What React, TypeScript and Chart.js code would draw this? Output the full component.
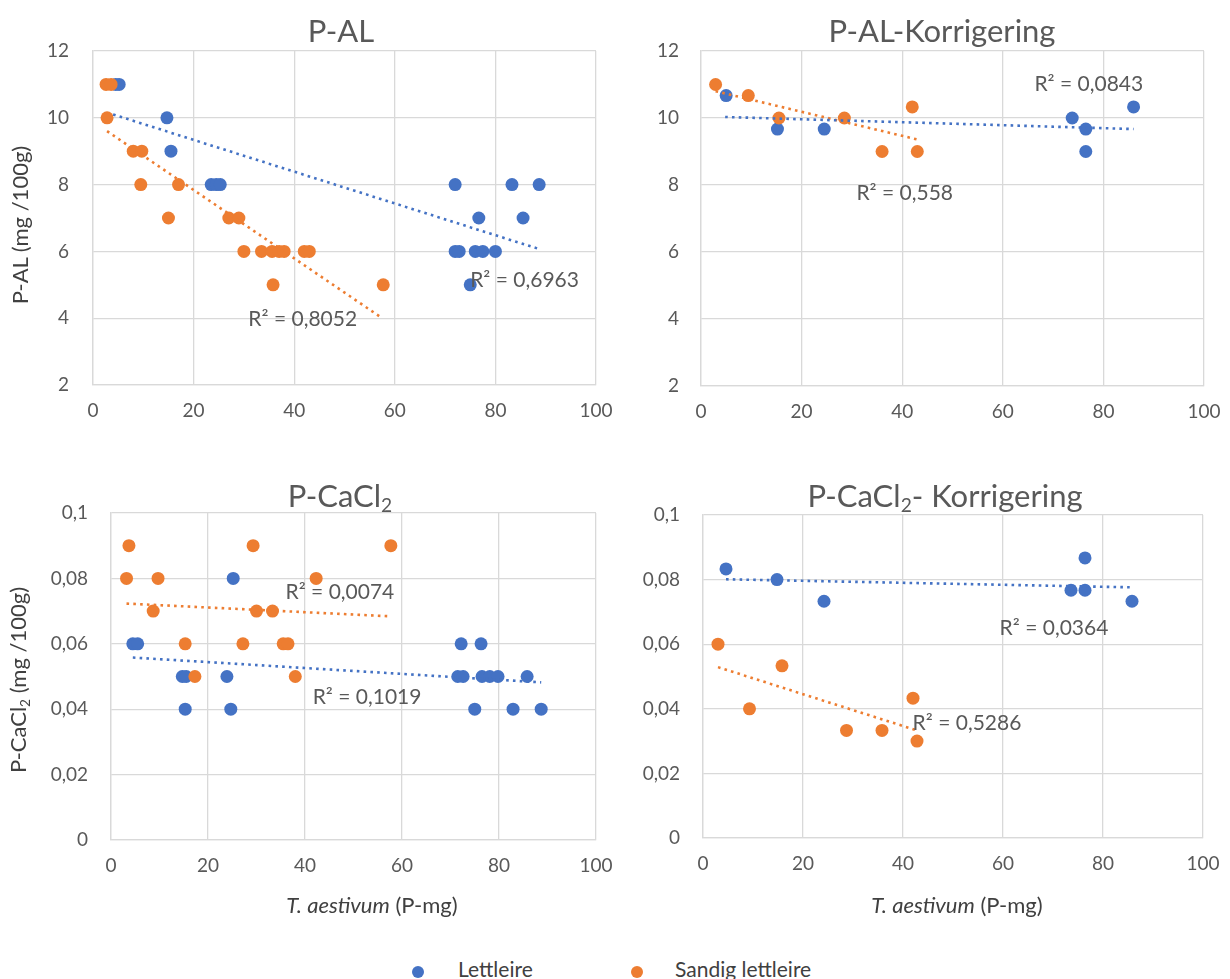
import React, { useEffect, useRef } from "react";
import { Chart, registerables } from "chart.js";
Chart.register(...registerables);

const BLUE = "#4472C4";
const ORANGE = "#ED7D31";
const GRID = "#d9d9d9";
const TEXT = "#595959";
const FONT = "Lato";

const seriesNames = ["Lettleire", "Sandig lettleire"];
const xTickValues = [0, 20, 40, 60, 80, 100];
const alTickValues = [2, 4, 6, 8, 10, 12];
const caTickValues = [0, 0.02, 0.04, 0.06, 0.08, 0.1];

// P-AL
const alLettX = [4.5, 5.2, 14.7, 15.5, 23.5, 24.5, 25.3, 72, 72.8, 76, 77.5, 80, 75, 76.7, 85.5, 72, 83.3, 88.7];
const alLettY = [11, 11, 10, 9, 8, 8, 8, 6, 6, 6, 6, 6, 5, 7, 7, 8, 8, 8];
const alSandX = [2.6, 3.6, 2.8, 8, 9.7, 9.5, 17, 15, 27, 29, 30, 33.5, 35.6, 37, 38, 42, 43, 35.8, 57.7];
const alSandY = [11, 11, 10, 9, 9, 8, 8, 7, 7, 7, 6, 6, 6, 6, 6, 6, 6, 5, 5];
const alLettTrendX = [4, 88.5];
const alLettTrendY = [10.1, 6.08];
const alSandTrendX = [2.8, 57.5];
const alSandTrendY = [9.6, 4.0];
const alR2 = ["R² = 0,6963", "R² = 0,8052"];

// P-AL-Korrigering
const korLettX = [5, 15.2, 24.5, 73.8, 76.5, 76.5, 86];
const korLettY = [10.67, 9.67, 9.67, 10, 9.67, 9, 10.33];
const korSandX = [2.9, 9.4, 15.5, 28.5, 36, 42, 43];
const korSandY = [11, 10.67, 10, 10, 9, 10.33, 9];
const korLettTrendX = [4.8, 86];
const korLettTrendY = [10.03, 9.67];
const korSandTrendX = [2.9, 43];
const korSandTrendY = [10.8, 9.36];
const korR2 = ["R² = 0,0843", "R² = 0,558"];

// P-CaCl2
const caLettX = [25.2, 4.5, 5.5, 14.7, 15.5, 23.9, 15.3, 24.7, 72.2, 76.3, 71.5, 72.6, 76.5, 78.1, 79.8, 85.8, 75, 82.9, 88.7];
const caLettY = [0.08, 0.06, 0.06, 0.05, 0.05, 0.05, 0.04, 0.04, 0.06, 0.06, 0.05, 0.05, 0.05, 0.05, 0.05, 0.05, 0.04, 0.04, 0.04];
const caSandX = [3.7, 29.3, 57.7, 3.2, 9.7, 42.3, 8.7, 30, 33.3, 15.3, 27.2, 35.5, 36.5, 17.3, 38];
const caSandY = [0.09, 0.09, 0.09, 0.08, 0.08, 0.08, 0.07, 0.07, 0.07, 0.06, 0.06, 0.06, 0.06, 0.05, 0.05];
const caLettTrendX = [4.5, 88.7];
const caLettTrendY = [0.0558, 0.0482];
const caSandTrendX = [3.2, 57.7];
const caSandTrendY = [0.0723, 0.0684];
const caR2 = ["R² = 0,1019", "R² = 0,0074"];

// P-CaCl2- Korrigering
const kcLettX = [4.6, 14.8, 24.2, 73.6, 76.4, 76.4, 85.8];
const kcLettY = [0.0833, 0.08, 0.0733, 0.0767, 0.0767, 0.0867, 0.0733];
const kcSandX = [3, 9.3, 15.8, 28.7, 35.8, 42, 42.8];
const kcSandY = [0.06, 0.04, 0.0533, 0.0333, 0.0333, 0.0433, 0.03];
const kcLettTrendX = [4.6, 85.8];
const kcLettTrendY = [0.0801, 0.0776];
const kcSandTrendX = [3, 42.8];
const kcSandTrendY = [0.0529, 0.0333];
const kcR2 = ["R² = 0,0364", "R² = 0,5286"];

const pts = (xs: number[], ys: number[]) => xs.map((x, i) => ({ x, y: ys[i] }));

const r2Plugin = {
  id: "r2labels",
  afterDatasetsDraw(chart: any, _args: any, opts: any) {
    const { ctx, scales } = chart;
    ctx.save();
    ctx.font = `21px ${FONT}`;
    ctx.fillStyle = TEXT;
    ctx.textAlign = "center";
    ctx.textBaseline = "middle";
    for (const l of opts.items || []) {
      ctx.fillText(l.text, scales.x.getPixelForValue(l.x), scales.y.getPixelForValue(l.y));
    }
    ctx.restore();
  },
};

type PanelDef = {
  left: number; top: number; width: number; height: number;
  yAxisWidth: number; xAxisHeight: number; padTop: number; padRight: number;
  yTicks: number[]; yPad: number;
  lett: { x: number[]; y: number[] }; sand: { x: number[]; y: number[] };
  lettTrend: { x: number[]; y: number[] }; sandTrend: { x: number[]; y: number[] };
  labels: { x: number; y: number; text: string }[];
};

const fmt = (v: number) => {
  if (v === 0) return "0";
  let s = v.toFixed(2);
  if (Number.isInteger(v)) s = String(v);
  else s = s.replace(/0+$/, "");
  return s.replace(".", ",");
};

const panels: PanelDef[] = [
  {
    left: 0, top: 0, width: 615, height: 440, yAxisWidth: 93, xAxisHeight: 55, padTop: 51, padRight: 19,
    yTicks: alTickValues, yPad: 24,
    lett: { x: alLettX, y: alLettY }, sand: { x: alSandX, y: alSandY },
    lettTrend: { x: alLettTrendX, y: alLettTrendY }, sandTrend: { x: alSandTrendX, y: alSandTrendY },
    labels: [{ x: 85.8, y: 5.13, text: alR2[0] }, { x: 41.7, y: 3.97, text: alR2[1] }],
  },
  {
    left: 615, top: 0, width: 615, height: 440, yAxisWidth: 86, xAxisHeight: 54, padTop: 51, padRight: 26,
    yTicks: alTickValues, yPad: 22,
    lett: { x: korLettX, y: korLettY }, sand: { x: korSandX, y: korSandY },
    lettTrend: { x: korLettTrendX, y: korLettTrendY }, sandTrend: { x: korSandTrendX, y: korSandTrendY },
    labels: [{ x: 77.1, y: 11.01, text: korR2[0] }, { x: 40.5, y: 7.76, text: korR2[1] }],
  },
  {
    left: 0, top: 460, width: 615, height: 440, yAxisWidth: 111, xAxisHeight: 60, padTop: 53, padRight: 19,
    yTicks: caTickValues, yPad: 23,
    lett: { x: caLettX, y: caLettY }, sand: { x: caSandX, y: caSandY },
    lettTrend: { x: caLettTrendX, y: caLettTrendY }, sandTrend: { x: caSandTrendX, y: caSandTrendY },
    labels: [{ x: 52.8, y: 0.0437, text: caR2[0] }, { x: 47.2, y: 0.0757, text: caR2[1] }],
  },
  {
    left: 615, top: 460, width: 615, height: 440, yAxisWidth: 88, xAxisHeight: 62, padTop: 55, padRight: 27,
    yTicks: caTickValues, yPad: 23,
    lett: { x: kcLettX, y: kcLettY }, sand: { x: kcSandX, y: kcSandY },
    lettTrend: { x: kcLettTrendX, y: kcLettTrendY }, sandTrend: { x: kcSandTrendX, y: kcSandTrendY },
    labels: [{ x: 70.2, y: 0.0649, text: kcR2[0] }, { x: 52.8, y: 0.0355, text: kcR2[1] }],
  },
];

function Panel({ def }: { def: PanelDef }) {
  const ref = useRef<HTMLCanvasElement>(null);
  useEffect(() => {
    if (!ref.current) return;
    const trendStyle = (color: string) => ({
      type: "line" as const,
      showLine: true,
      borderColor: color,
      borderWidth: 2.6,
      borderDash: [2.6, 4.2],
      pointRadius: 0,
      fill: false,
      order: 0,
    });
    const chart = new Chart(ref.current, {
      type: "scatter",
      data: {
        datasets: [
          { ...trendStyle(BLUE), label: seriesNames[0] + " trend", data: pts(def.lettTrend.x, def.lettTrend.y) } as any,
          { ...trendStyle(ORANGE), label: seriesNames[1] + " trend", data: pts(def.sandTrend.x, def.sandTrend.y) } as any,
          { label: seriesNames[1], data: pts(def.sand.x, def.sand.y), backgroundColor: ORANGE, borderWidth: 0, pointRadius: 6.5, order: 1 },
          { label: seriesNames[0], data: pts(def.lett.x, def.lett.y), backgroundColor: BLUE, borderWidth: 0, pointRadius: 6.5, order: 2 },
        ],
      },
      options: {
        responsive: false,
        animation: false,
        layout: { autoPadding: false, padding: { top: def.padTop, right: def.padRight, left: 0, bottom: 0 } } as any,
        plugins: {
          legend: { display: false },
          tooltip: { enabled: false },
          r2labels: { items: def.labels },
        } as any,
        scales: {
          x: {
            type: "linear",
            min: 0,
            max: 100,
            afterBuildTicks: (s: any) => { s.ticks = xTickValues.map((v) => ({ value: v })); },
            afterFit: (s: any) => {
              s.height = def.xAxisHeight;
              s.paddingLeft = 0; s.paddingRight = 0; s.paddingTop = 0; s.paddingBottom = 0;
            },
            ticks: { color: TEXT, font: { family: FONT, size: 19 }, padding: 14, callback: (v: any) => fmt(Number(v)) },
            grid: { color: GRID, lineWidth: 1.3, drawTicks: false },
            border: { color: GRID, width: 1.3 },
          },
          y: {
            type: "linear",
            min: def.yTicks[0],
            max: def.yTicks[def.yTicks.length - 1],
            afterBuildTicks: (s: any) => { s.ticks = def.yTicks.map((v) => ({ value: v })); },
            afterFit: (s: any) => {
              s.width = def.yAxisWidth;
              s.paddingLeft = 0; s.paddingRight = 0; s.paddingTop = 0; s.paddingBottom = 0;
            },
            ticks: { color: TEXT, font: { family: FONT, size: 19 }, padding: def.yPad, callback: (v: any) => fmt(Number(v)) },
            grid: { color: GRID, lineWidth: 1.3, drawTicks: false },
            border: { color: GRID, width: 1.3 },
          },
        },
      },
      plugins: [r2Plugin],
    });
    return () => chart.destroy();
  }, [def]);
  return (
    <canvas
      ref={ref}
      width={def.width}
      height={def.height}
      style={{ position: "absolute", left: def.left, top: def.top, width: def.width, height: def.height }}
    />
  );
}

const titleStyle = (x: number, y: number): React.CSSProperties => ({
  position: "absolute",
  left: x,
  top: y,
  transform: "translate(-50%, -50%)",
  fontFamily: FONT,
  fontSize: 31,
  color: TEXT,
  whiteSpace: "nowrap",
  lineHeight: 1,
});

const axisTitle = (x: number, y: number, rotate: boolean): React.CSSProperties => ({
  position: "absolute",
  left: x,
  top: y,
  transform: rotate ? "translate(-50%, -50%) rotate(-90deg)" : "translate(-50%, -50%)",
  fontFamily: FONT,
  fontSize: 22,
  color: "#404040",
  whiteSpace: "nowrap",
  lineHeight: 1,
});

const subStyle: React.CSSProperties = { fontSize: "0.62em", verticalAlign: "-0.25em" };

export default function App() {
  return (
    <div style={{ position: "absolute", left: 0, top: 0, width: 1230, height: 979, background: "#fff", overflow: "hidden" }}>
      {panels.map((p, i) => (
        <Panel key={i} def={p} />
      ))}
      <div style={titleStyle(341, 30)}>P-AL</div>
      <div style={titleStyle(942, 30)}>P-AL-Korrigering</div>
      <div style={titleStyle(340, 497)}>
        P-CaCl<span style={subStyle}>2</span>
      </div>
      <div style={titleStyle(945, 497)}>
        P-CaCl<span style={subStyle}>2</span>- Korrigering
      </div>
      <div style={axisTitle(20, 225, true)}>P-AL (mg /100g)</div>
      <div style={axisTitle(20, 680, true)}>
        P-CaCl<span style={subStyle}>2</span> (mg /100g)
      </div>
      <div style={axisTitle(372, 905, false)}>
        <i>T. aestivum</i> (P-mg)
      </div>
      <div style={axisTitle(957, 905, false)}>
        <i>T. aestivum</i> (P-mg)
      </div>
      {[
        { name: seriesNames[0], color: BLUE, dot: 418, text: 458 },
        { name: seriesNames[1], color: ORANGE, dot: 637, text: 675 },
      ].map((l) => (
        <React.Fragment key={l.name}>
          <div
            style={{
              position: "absolute",
              left: l.dot - 6,
              top: 972 - 6,
              width: 12,
              height: 12,
              borderRadius: "50%",
              background: l.color,
            }}
          />
          <div
            style={{
              position: "absolute",
              left: l.text,
              top: 968,
              transform: "translateY(-50%)",
              fontFamily: FONT,
              fontSize: 21,
              color: "#404040",
              whiteSpace: "nowrap",
              lineHeight: 1,
            }}
          >
            {l.name}
          </div>
        </React.Fragment>
      ))}
    </div>
  );
}
